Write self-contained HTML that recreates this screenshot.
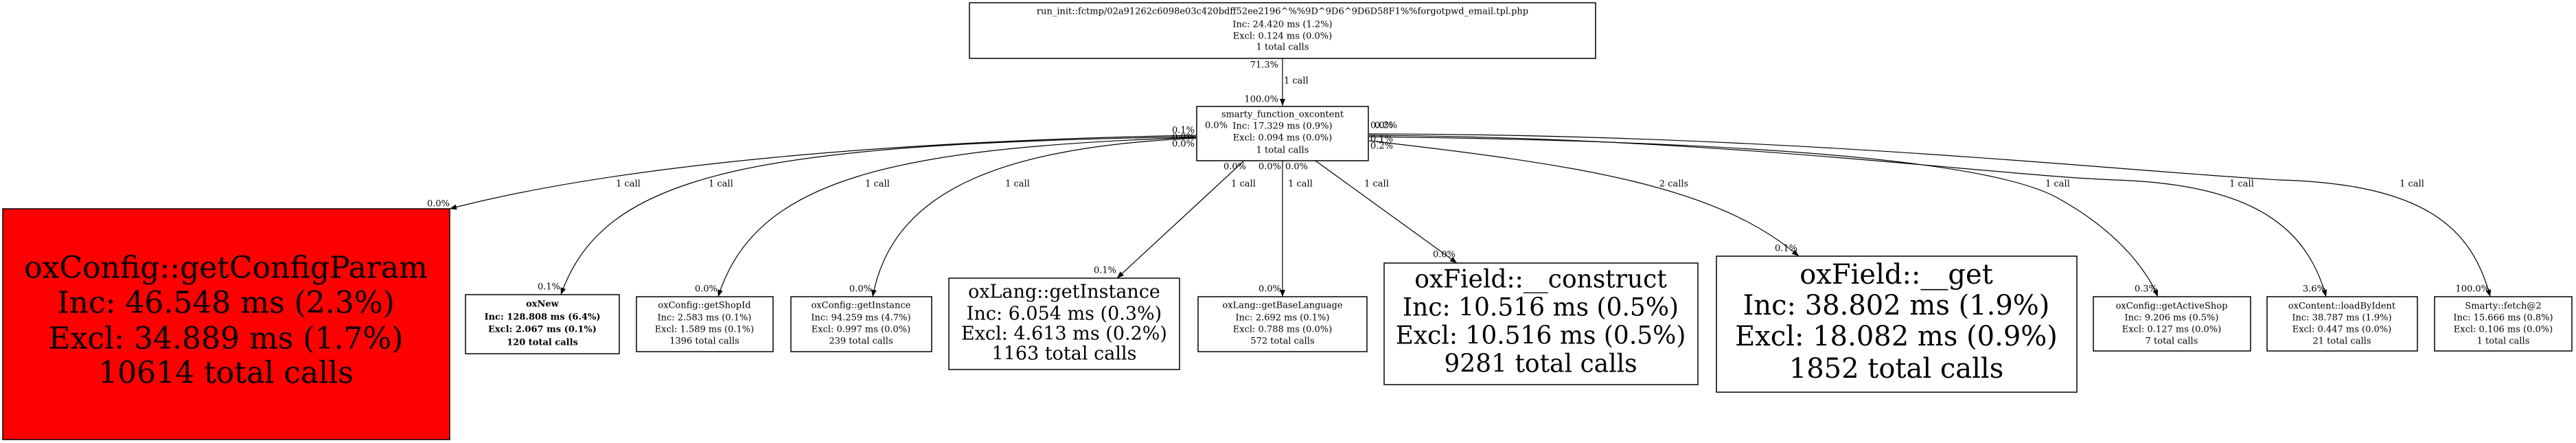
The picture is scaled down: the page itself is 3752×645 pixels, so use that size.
<!DOCTYPE html>
<html><head><meta charset="utf-8"><style>
html,body{margin:0;padding:0;background:#fff;}
svg{display:block;}
text{font-family:"DejaVu Serif","Liberation Serif",serif;fill:#000;}
</style></head><body>
<svg width="3752" height="645" viewBox="0 0 3752 645" xmlns="http://www.w3.org/2000/svg">
<defs>
<marker id="a" viewBox="0 0 10 10" refX="10" refY="5" markerWidth="10" markerHeight="10" markerUnits="userSpaceOnUse" orient="auto">
<path d="M0,1 L10,5 L0,9 z" fill="#000"/>
</marker>
</defs>
<g fill="none" stroke="#000" stroke-width="1.2" marker-end="url(#a)">
<path d="M1868,85 L1868,154"/>
<path d="M1742,197 C1300,205 900,240 655,304"/>
<path d="M1742,199 C1100,210 880,250 817,429"/>
<path d="M1742,200 C1300,215 1100,260 1046,432"/>
<path d="M1742,201 C1450,215 1300,280 1271,432"/>
<path d="M1812,234 L1627,405"/>
<path d="M1868,234 L1868,432"/>
<path d="M1916,234 L2122,383"/>
<path d="M1994,205 C2300,240 2500,270 2620,373"/>
<path d="M1994,199 C2500,205 2900,230 3000,290 C3090,340 3130,400 3143,432"/>
<path d="M1994,197 C2500,200 2900,255 3080,262 C3280,268 3360,330 3388,432"/>
<path d="M1994,195 C2600,195 3100,250 3320,262 C3530,268 3600,330 3627,432"/>
</g>
<g fill="#fff" stroke="#000" stroke-width="1.5">
<rect x="1412" y="4" width="912" height="81"/>
<rect x="1743" y="155" width="250" height="79"/>
<rect x="4" y="304" width="651" height="336" fill="#ff0000"/>
<rect x="678" y="429" width="224" height="86"/>
<rect x="927" y="432" width="199" height="80"/>
<rect x="1152" y="432" width="205" height="80"/>
<rect x="1382" y="405" width="336" height="133"/>
<rect x="1745" y="432" width="246" height="80"/>
<rect x="2016" y="383" width="457" height="177"/>
<rect x="2500" y="373" width="525" height="198"/>
<rect x="3049" y="432" width="229" height="79"/>
<rect x="3302" y="432" width="219" height="79"/>
<rect x="3546" y="432" width="200" height="79"/>
</g>
<g text-anchor="middle" dominant-baseline="central" font-size="13">
<text x="1868" y="17">run_init::fctmp/02a91262c6098e03c420bdff52ee2196^%%9D^9D6^9D6D58F1%%forgotpwd_email.tpl.php</text>
<text x="1868" y="36">Inc: 24.420 ms (1.2%)</text>
<text x="1868" y="53">Excl: 0.124 ms (0.0%)</text>
<text x="1868" y="69">1 total calls</text>
<text x="1868" y="167">smarty_function_oxcontent</text>
<text x="1868" y="184">Inc: 17.329 ms (0.9%)</text>
<text x="1868" y="201">Excl: 0.094 ms (0.0%)</text>
<text x="1868" y="219">1 total calls</text>
<g font-weight="bold"><text x="790" y="443">oxNew</text><text x="790" y="462">Inc: 128.808 ms (6.4%)</text><text x="790" y="480">Excl: 2.067 ms (0.1%)</text><text x="790" y="499">120 total calls</text></g>
<text x="1026" y="445">oxConfig::getShopId</text><text x="1026" y="463">Inc: 2.583 ms (0.1%)</text><text x="1026" y="480">Excl: 1.589 ms (0.1%)</text><text x="1026" y="497">1396 total calls</text>
<text x="1254" y="445">oxConfig::getInstance</text><text x="1254" y="463">Inc: 94.259 ms (4.7%)</text><text x="1254" y="480">Excl: 0.997 ms (0.0%)</text><text x="1254" y="497">239 total calls</text>
<text x="1868" y="445">oxLang::getBaseLanguage</text><text x="1868" y="463">Inc: 2.692 ms (0.1%)</text><text x="1868" y="480">Excl: 0.788 ms (0.0%)</text><text x="1868" y="497">572 total calls</text>
<text x="3163" y="446">oxConfig::getActiveShop</text><text x="3163" y="463">Inc: 9.206 ms (0.5%)</text><text x="3163" y="480">Excl: 0.127 ms (0.0%)</text><text x="3163" y="497">7 total calls</text>
<text x="3411" y="446">oxContent::loadByIdent</text><text x="3411" y="463">Inc: 38.787 ms (1.9%)</text><text x="3411" y="480">Excl: 0.447 ms (0.0%)</text><text x="3411" y="497">21 total calls</text>
<text x="3646" y="446">Smarty::fetch@2</text><text x="3646" y="463">Inc: 15.666 ms (0.8%)</text><text x="3646" y="480">Excl: 0.106 ms (0.0%)</text><text x="3646" y="497">1 total calls</text>
<g font-size="27"><text x="1550" y="425">oxLang::getInstance</text><text x="1550" y="457">Inc: 6.054 ms (0.3%)</text><text x="1550" y="486">Excl: 4.613 ms (0.2%)</text><text x="1550" y="515">1163 total calls</text></g>
<g font-size="36"><text x="2244" y="407">oxField::__construct</text><text x="2244" y="448">Inc: 10.516 ms (0.5%)</text><text x="2244" y="489">Excl: 10.516 ms (0.5%)</text><text x="2244" y="530">9281 total calls</text></g>
<g font-size="40"><text x="2762" y="400">oxField::__get</text><text x="2762" y="445">Inc: 38.802 ms (1.9%)</text><text x="2762" y="490">Excl: 18.082 ms (0.9%)</text><text x="2762" y="537">1852 total calls</text></g>
<g font-size="44"><text x="329" y="390">oxConfig::getConfigParam</text><text x="329" y="441">Inc: 46.548 ms (2.3%)</text><text x="329" y="493">Excl: 34.889 ms (1.7%)</text><text x="329" y="543">10614 total calls</text></g>
</g>
<g font-size="13" dominant-baseline="central">
<g text-anchor="end">
<text x="1862" y="95">71.3%</text><text x="1862" y="145">100.0%</text>
<text x="1740" y="190">0.1%</text><text x="1788" y="183">0.0%</text><text x="1740" y="200">0.0%</text><text x="1740" y="210">0.0%</text>
<text x="1815" y="243">0.0%</text><text x="1866" y="243">0.0%</text>
<text x="655" y="297">0.0%</text><text x="816" y="418">0.1%</text><text x="1045" y="421">0.0%</text><text x="1270" y="421">0.0%</text>
<text x="1626" y="394">0.1%</text><text x="1866" y="421">0.0%</text><text x="2120" y="371">0.0%</text><text x="2618" y="362">0.1%</text>
<text x="3142" y="421">0.3%</text><text x="3387" y="421">3.6%</text><text x="3626" y="421">100.0%</text>
</g>
<g text-anchor="start">
<text x="1870" y="118">1 call</text><text x="1872" y="243">0.0%</text>
<text x="1996" y="183">0.0%</text><text x="2002" y="183">0.2%</text><text x="1996" y="203">0.1%</text><text x="1996" y="213">0.2%</text>
</g>
<g text-anchor="middle">
<text x="915" y="268">1 call</text><text x="1050" y="268">1 call</text><text x="1278" y="268">1 call</text><text x="1482" y="268">1 call</text>
<text x="1811" y="268">1 call</text><text x="1894" y="268">1 call</text><text x="2005" y="268">1 call</text>
<text x="2438" y="268">2 calls</text><text x="2997" y="268">1 call</text><text x="3265" y="268">1 call</text><text x="3513" y="268">1 call</text>
</g>
</g>
</svg>
</body></html>
